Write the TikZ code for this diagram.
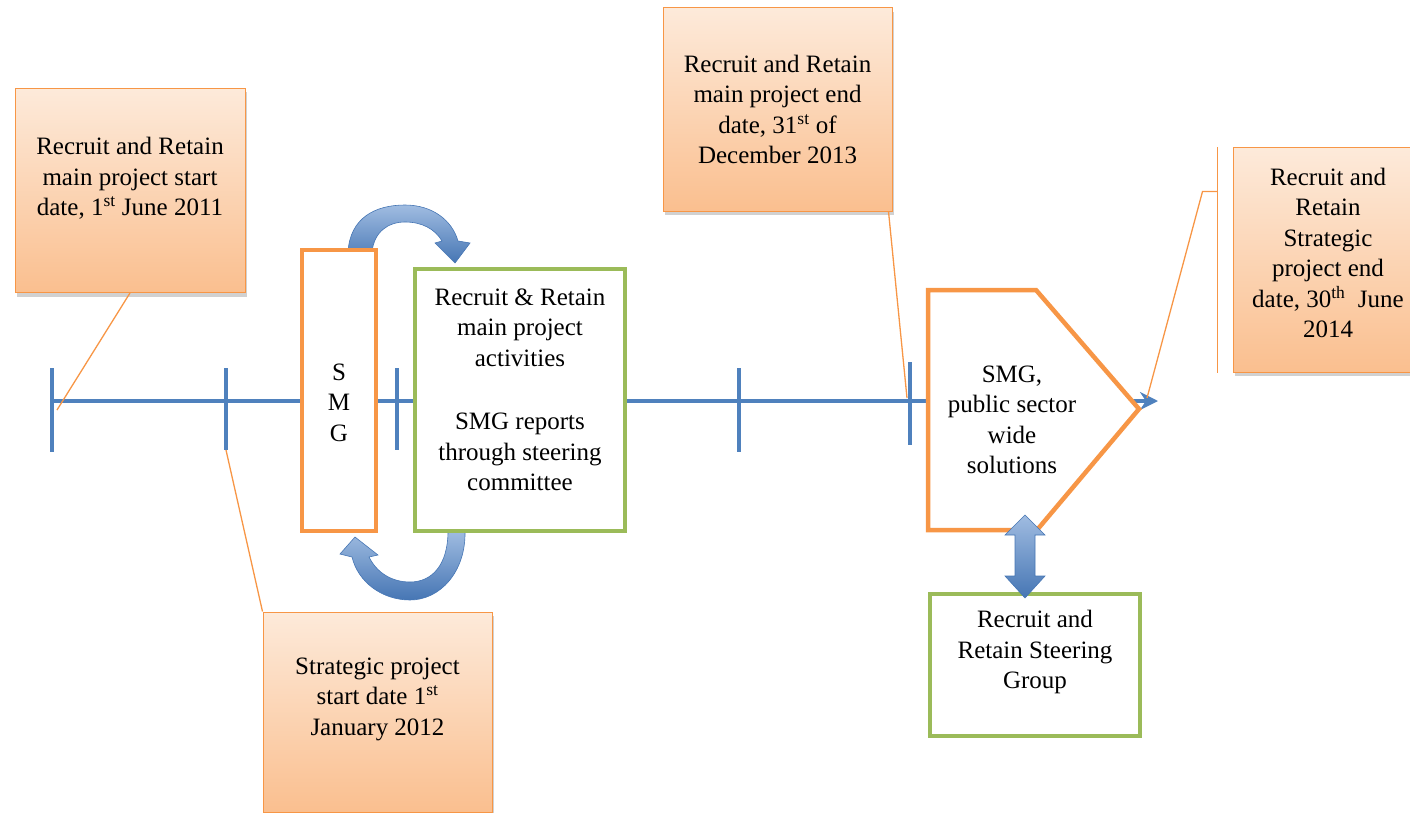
\documentclass[tikz,border=0pt]{standalone}
\usepackage{fontspec}
\setmainfont{Liberation Serif}
\usetikzlibrary{arrows.meta,shadows}

\definecolor{tlBlue}{RGB}{79,129,189}
\definecolor{orLine}{RGB}{247,150,70}
\definecolor{grLine}{RGB}{155,187,89}
\definecolor{orTop}{RGB}{253,234,218}
\definecolor{orBot}{RGB}{250,191,143}
\definecolor{arTop}{RGB}{160,188,225}
\definecolor{arBot}{RGB}{70,118,180}

\begin{document}
\begin{tikzpicture}
[x=1pt,y=-1pt,
  every node/.style={font=\fontsize{25}{30.5}\selectfont,align=center,inner sep=0pt},%
  calloutBox/.style={rectangle,draw=orLine,line width=1pt,top color=orTop,bottom color=orBot,
    drop shadow={shadow xshift=2pt,shadow yshift=-4pt,fill=black!30,opacity=0.6}},%
  thickBox/.style={rectangle,line width=4.5pt,fill=white},%
  lineTimeline/.style={tlBlue,line width=4pt,-{Stealth[length=18pt,width=18pt]}},%
  lineTick/.style={tlBlue,line width=4pt},%
  lineLeader/.style={orLine,line width=1.3pt},%
  blockArrow/.style={top color=arTop,bottom color=arBot,draw=arBot,line width=0.6pt}]
\useasboundingbox (0,0) rectangle (1410,813);
%% time line and ticks
\coordinate (tlStart) at (52,401);
\coordinate (tlEnd) at (1158,401);
\draw[lineTimeline] (tlStart) -- (tlEnd);
\foreach \tickname/\x/\ytop/\ybot in {
  t1/52/368/452, t2/226/368/450, t3/397/368/450, t4/739/368/452, t5/910/362/445}
{
  \coordinate (\tickname) at (\x,\ybot);
  \draw[lineTick] (\x,\ytop) -- (\tickname);
}
%% curved arrows round the SMG box
\draw[blockArrow] (348,252) .. controls (350,218) and (375,205) .. (405,205)
  .. controls (432,205) and (452,220) .. (458,241) -- (470,243) -- (455,263)
  -- (435,243) -- (442,241) .. controls (435,229) and (422,222) .. (405,222)
  .. controls (388,222) and (374,232) .. (372,252) -- cycle;
\draw[blockArrow] (448,531) -- (465,531) .. controls (466,572) and (440,600) .. (410,600)
  .. controls (382,600) and (358,582) .. (352,557) -- (340,554) -- (355,537)
  -- (378,555) -- (369,557) .. controls (377,573) and (392,582) .. (410,582)
  .. controls (432,582) and (448,565) .. (448,531) -- cycle;
%% boxes on the time line
\node[thickBox,draw=orLine,minimum width=74,minimum height=281] (smgBox) at (339,390.5) {};
\node (smgTxt) at ([yshift=-12pt]smgBox.center) {S\\M\\G};
\node[thickBox,draw=grLine,minimum width=210,minimum height=262] (mainBox) at (520,400) {};
\node (mainTxt) at ([yshift=10pt]mainBox.center)
  {Recruit \& Retain\\main project\\activities\\[33pt]SMG reports\\through steering\\committee};
\draw[orLine,line width=4.5pt,fill=white,line join=miter]
  (928,290) -- (1036,290) -- (1139,409) -- (1037,530) -- (928,530) -- cycle;
\node (smgWideTxt) at (1012,420) {SMG,\\public sector\\wide\\solutions};
\node[thickBox,draw=grLine,minimum width=210,minimum height=142] (steerBox) at (1035,665) {};
\node (steerTxt) at ([yshift=13pt]steerBox.center) {Recruit and\\Retain Steering\\Group};
\draw[blockArrow] (1025,515) -- (1045,535) -- (1035,535) -- (1035,576) -- (1045,576)
  -- (1025,598) -- (1005,576) -- (1015,576) -- (1015,535) -- (1005,535) -- cycle;
%% callouts
\node[calloutBox,minimum width=230,minimum height=204] (startBox) at (130,190.5) {};
\node (startTxt) at ([yshift=12pt]startBox.center)
  {Recruit and Retain\\main project start\\date, 1\textsuperscript{st} June 2011};
\node[calloutBox,minimum width=229,minimum height=200] (stratBox) at (377.5,712) {};
\node (stratTxt) at ([yshift=13pt]stratBox.center)
  {Strategic project\\start date 1\textsuperscript{st}\\January 2012};
\node[calloutBox,minimum width=229,minimum height=203] (endBox) at (777.5,109.5) {};
\node (endTxt) at (endBox.center)
  {Recruit and Retain\\main project end\\date, 31\textsuperscript{st} of\\December 2013};
\node[calloutBox,minimum width=190,minimum height=224] (stratEndBox) at (1328,260) {};
\node (stratEndTxt) at ([yshift=7pt]stratEndBox.center)
  {Recruit and\\Retain\\Strategic\\project end\\date, 30\textsuperscript{th}~ June\\2014};
%% leader lines
\coordinate (p1) at (57,410);
\coordinate (p3) at (907,398);
\coordinate (p4) at (1147,398);
\draw[lineLeader] (startBox.south) -- (p1);
\draw[lineLeader] (stratBox.north west) -- (t2);
\draw[lineLeader] ([xshift=-4pt]endBox.south east) -- (p3);
\draw[lineLeader] ([xshift=-15pt]stratEndBox.north west) -- ([xshift=-15pt]stratEndBox.south west);
\draw[lineLeader] ([xshift=-15pt,yshift=-44pt]stratEndBox.north west) -- ++(-15,0) -- (p4);
\end{tikzpicture}
\end{document}
